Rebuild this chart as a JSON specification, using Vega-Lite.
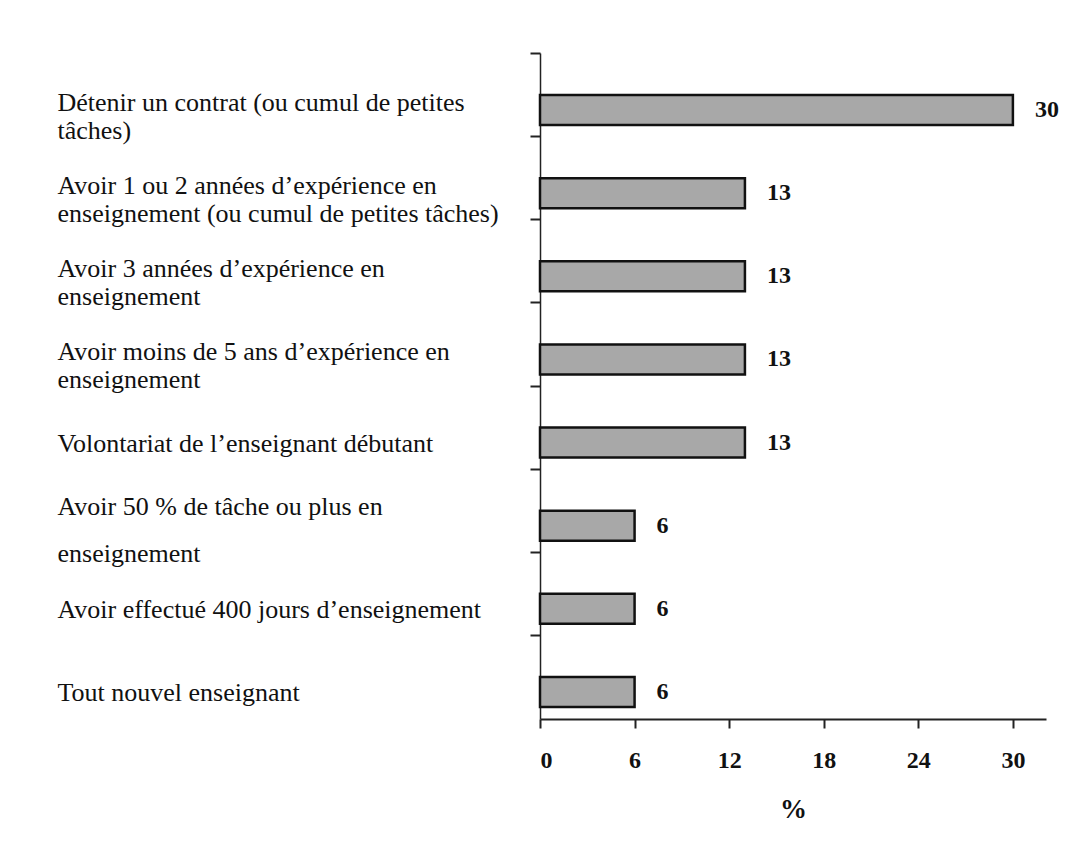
{
  "$schema": "https://vega.github.io/schema/vega-lite/v6.json",
  "width": 506,
  "height": 666,
  "autosize": "none",
  "padding": {"left": 540, "top": 53, "right": 25, "bottom": 126},
  "background": "white",
  "config": {"view": {"stroke": null}, "font": "Liberation Serif"},
  "data": {
    "values": [
      {"critere": "Détenir un contrat (ou cumul de petites|tâches)", "pct": 30},
      {"critere": "Avoir 1 ou 2 années d’expérience en|enseignement (ou cumul de petites tâches)", "pct": 13},
      {"critere": "Avoir 3 années d’expérience en|enseignement", "pct": 13},
      {"critere": "Avoir moins de 5 ans d’expérience en|enseignement", "pct": 13},
      {"critere": "Volontariat de l’enseignant débutant", "pct": 13},
      {"critere": "Avoir 50 % de tâche ou plus en|enseignement", "pct": 6},
      {"critere": "Avoir effectué 400 jours d’enseignement", "pct": 6},
      {"critere": "Tout nouvel enseignant", "pct": 6}
    ]
  },
  "encoding": {
    "y": {
      "field": "critere",
      "type": "nominal",
      "sort": null,
      "scale": {"paddingInner": 0.639, "paddingOuter": 0.325, "align": 0.778},
      "axis": {
        "title": null,
        "labelExpr": "datum.value ? split(datum.value, '|') : ''",
        "labelAlign": "left",
        "labelPadding": 473,
        "labelLimit": 520,
        "labelFont": "Liberation Serif",
        "labelFontSize": 26,
        "labelColor": "#111111",
        "labelLineHeight": {"expr": "datum.value && indexof(datum.value, 'Avoir 50') >= 0 ? 47 : 28"},
        "tickOffset": -57,
        "labelOffset": {"expr": "datum.value && indexof(datum.value, 'Avoir 50') >= 0 ? 38 : (datum.value && indexof(datum.value, '|') >= 0 ? 49 : 58)"},
        "tickSize": 10,
        "tickWidth": 2,
        "tickColor": "#222222",
        "domainColor": "#222222",
        "domainWidth": 1.5
      }
    },
    "x": {
      "field": "pct",
      "type": "quantitative",
      "scale": {"domain": [0, 32.1], "nice": false},
      "axis": {
        "title": "%",
        "values": [0, 6, 12, 18, 24, 30],
        "grid": false,
        "tickSize": 9,
        "tickWidth": 2,
        "tickColor": "#222222",
        "domainColor": "#222222",
        "domainWidth": 2,
        "labelPadding": 20,
        "labelFont": "Liberation Serif",
        "labelFontSize": 24,
        "labelFontWeight": "bold",
        "labelColor": "#111111",
        "titleFont": "Liberation Serif",
        "titleFontSize": 27,
        "titleFontWeight": "bold",
        "titleColor": "#111111",
        "titlePadding": 24
      }
    }
  },
  "layer": [
    {
      "mark": {"type": "bar", "fill": "#a8a8a8", "stroke": "#111111", "strokeWidth": 2.5}
    },
    {
      "mark": {"type": "text", "align": "left", "baseline": "middle", "dx": 22, "font": "Liberation Serif", "fontSize": 24, "fontWeight": "bold", "color": "#111111"},
      "encoding": {"text": {"field": "pct", "type": "quantitative"}}
    }
  ]
}
